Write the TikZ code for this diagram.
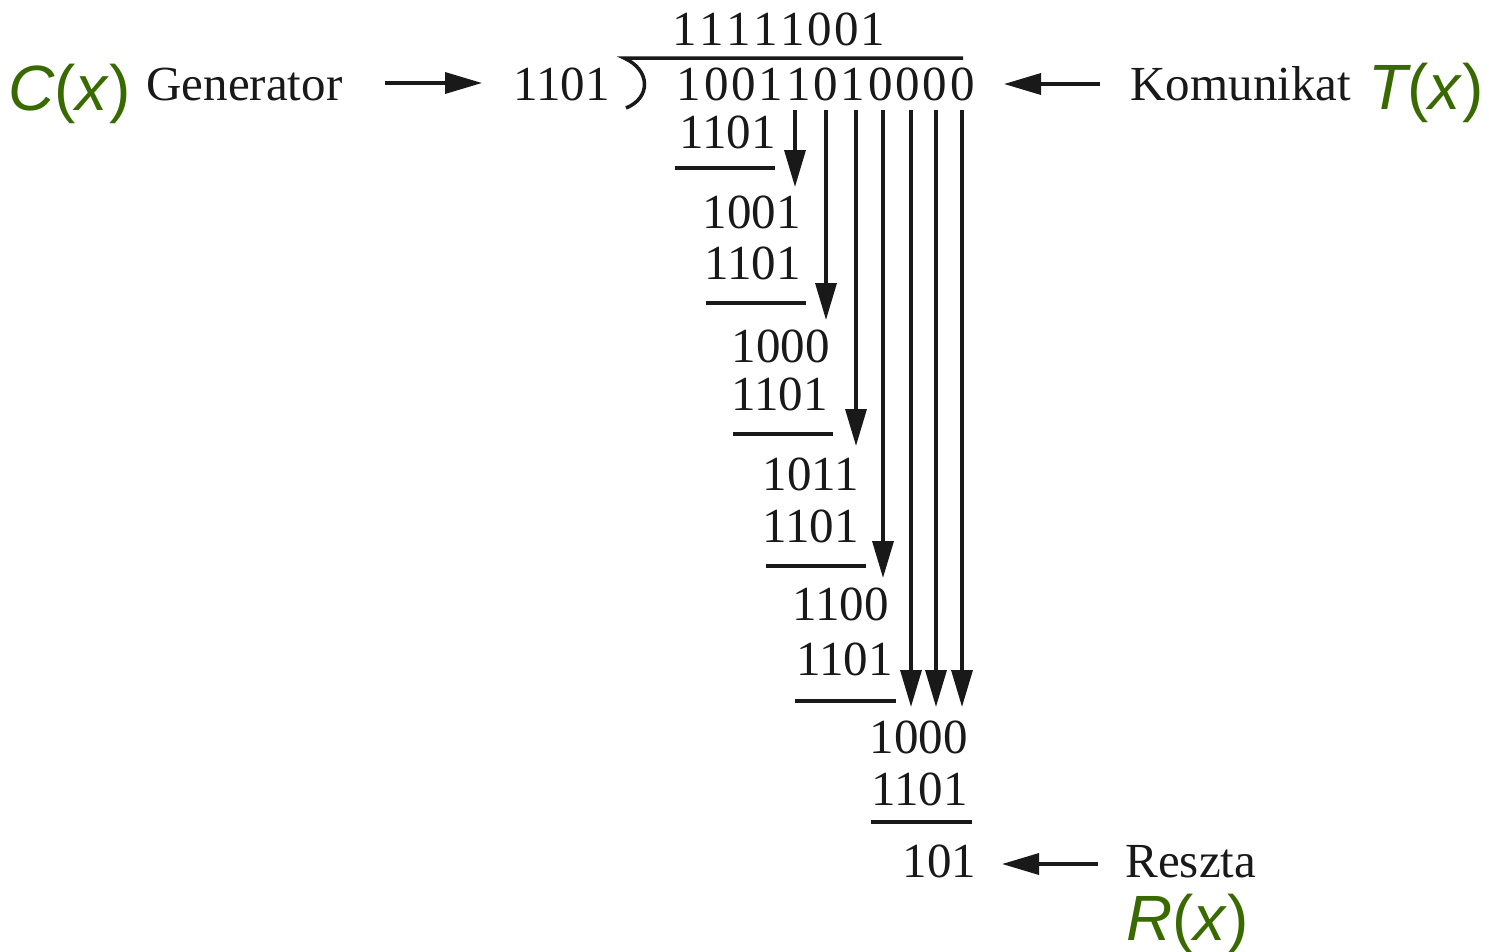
\documentclass[tikz,border=0pt]{standalone}
\usepackage{fontspec}
\setmainfont{Liberation Serif}
\newfontfamily\gfont{Liberation Sans}
\usetikzlibrary{arrows.meta}
\definecolor{polygreen}{RGB}{56,106,0}
\makeatletter
\newcommand\spreaddigits[2]{\def\sd@w{#1}\sd@loop#2\relax}
\def\sd@loop#1{\ifx\relax#1\else\makebox[\sd@w][c]{#1}\expandafter\sd@loop\fi}
\makeatother
\newcommand\gpoly[1]{{\color{polygreen}\gfont{\itshape #1}(\textit{x})}}
\tikzset{
  txt/.style={inner sep=0pt, outer sep=0pt, anchor=base west, font=\fontsize{49}{55}\selectfont, text=black!90},
  poly/.style={inner sep=0pt, outer sep=0pt, anchor=base east, font=\fontsize{64}{70}\selectfont},
  rule/.style={line width=3.5pt, draw=black!90},
  arr/.style={line width=3.5pt, draw=black!90, -{Triangle[length=37pt,width=21pt]}}
}
\begin{document}
\begin{tikzpicture}[x=1pt,y=-1pt]
\useasboundingbox (0,0) rectangle (1489,951);
% header
\node[poly] (cx) at (131,110) {\gpoly{C}};
\node[txt] (gen) at (146.5,100) {Generator};
\node[txt] (div) at (513.6,100) {1101};
\node[txt] (quot) at (671.5,45) {\spreaddigits{26.9pt}{11111001}};
\node[txt] (dvd) at (675.3,100) {\spreaddigits{27.35pt}{10011010000}};
\node[txt] (kom) at (1130.5,100) {Komunikat};
\node[poly] (tx) at (1484,109) {\gpoly{T}};
% division bracket
\draw[rule] (963,58) -- (624,58) .. controls (651,70) and (651,98) .. (626,108);
% header arrows
\coordinate (ga) at (385,83);
\coordinate (gb) at (482,83);
\draw[arr] (ga) -- (gb);
\coordinate (ka) at (1100,84);
\coordinate (kb) at (1004,84);
\draw[arr] (ka) -- (kb);
% rows
\node[txt] (s1) at (679.6,148) {1101};
\node[txt] (r1) at (702.6,228) {1001};
\node[txt] (s2) at (704.6,279) {1101};
\node[txt] (r2) at (731.6,362) {1000};
\node[txt] (s3) at (731.6,410) {1101};
\node[txt] (r3) at (762.6,490) {1011};
\node[txt] (s4) at (762.6,542) {1101};
\node[txt] (r4) at (792.6,620) {1100};
\node[txt] (s5) at (796.6,675) {1101};
\node[txt] (r5) at (869.6,753) {1000};
\node[txt] (s6) at (871.6,805) {1101};
\node[txt] (rem) at (902.6,877) {101};
% underlines
\draw[rule] (675,168) -- (775,168);
\draw[rule] (706,303) -- (806,303);
\draw[rule] (733,434) -- (833,434);
\draw[rule] (766,566) -- (866,566);
\draw[rule] (795,701) -- (896,701);
\draw[rule] (871,822) -- (972,822);
% bring-down arrows
\foreach \n/\x/\y in {1/795/187, 2/826/320, 3/856/446, 4/883/578, 5/911/707, 6/936/707, 7/962/707}{
  \coordinate (a\n) at (\x,110);
  \coordinate (b\n) at (\x,\y);
  \draw[arr] (a\n) -- (b\n);
}
% remainder
\node[txt] (resz) at (1125.5,877) {Reszta};
\node[poly] (rx) at (1249,940) {\gpoly{R}};
\coordinate (ra) at (1098,864);
\coordinate (rb) at (1002,864);
\draw[arr] (ra) -- (rb);
\end{tikzpicture}
\end{document}
